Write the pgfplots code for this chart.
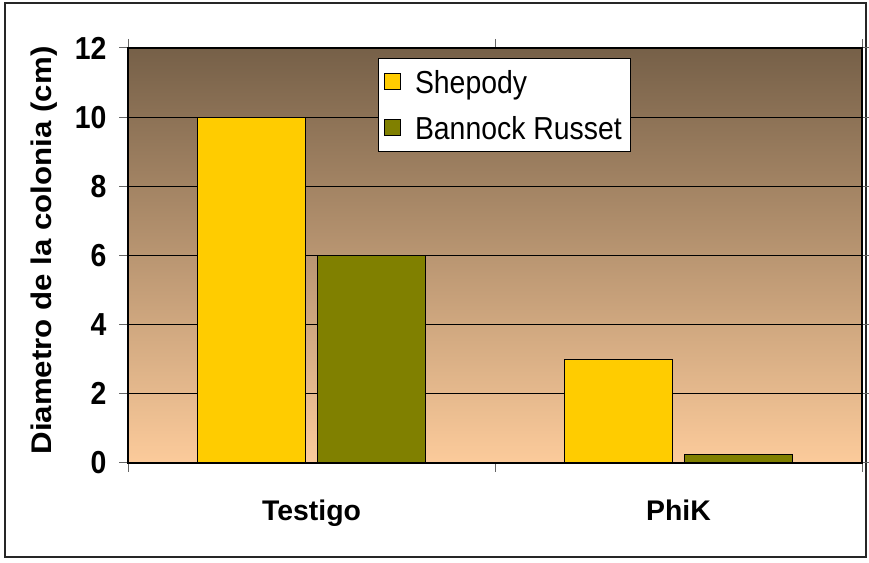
\documentclass[border=0pt]{standalone}
\usepackage{pgfplots}
\pgfplotsset{compat=1.18}
\usepackage{fontspec}
\setmainfont{Liberation Sans}
\usepackage{graphicx}
\definecolor{shep}{RGB}{255,204,0}
\definecolor{bann}{RGB}{128,128,0}
\definecolor{bgtop}{RGB}{118,96,72}
\definecolor{bgbot}{RGB}{252,203,155}
\newcommand\st[1]{\scalebox{1}[1.12]{#1}}
\newcommand\fs{\fontsize{28.5}{31}\selectfont}
\begin{document}
\begin{tikzpicture}[x=1bp,y=1bp]
\useasboundingbox (0,0) rectangle (869,563);
\draw[line width=1.5bp, black!85] (5,6) rectangle (866,560);
\begin{axis}[
  at={(128bp,100bp)}, anchor=south west,
  scale only axis, width=734bp, height=415bp,
  xmin=-0.5, xmax=1.5, ymin=0, ymax=12,
  ytick={0,2,...,12},
  xtick={-0.5,0.5,1.5}, xticklabels={},
  extra x ticks={0,1}, extra x tick labels={Testigo,PhiK},
  extra x tick style={major tick length=0pt, grid=none,
     xticklabel style={font=\fs\bfseries, yshift=-33bp}},
  tick align=outside, major tick length=9bp,
  every tick/.style={draw=gray!80!black, line width=1bp},
  axis line style={line width=2.4bp},
  ymajorgrids, grid style={black, line width=0.7bp},
  axis background/.style={top color=bgtop, bottom color=bgbot},
  yticklabel={\st{\bfseries\pgfmathprintnumber[assume math mode=true]{\tick}}},
  yticklabel style={font=\fs, xshift=-9bp},
  ylabel={\scalebox{1.10}[1]{\bfseries Diametro de la colonia (cm)}},
  every axis y label/.style={at={([xshift=-84bp,yshift=5bp]rel axis cs:0,0.5)}, rotate=90, anchor=center, font=\fs},
  legend cell align=left,
  legend style={at={(0.3406,0.976)}, anchor=north west, draw=black, line width=0.8bp, fill=white,
     font=\fs, inner sep=6bp, row sep=11bp,
     nodes={inner sep=3bp, text height=26bp, text depth=3bp}},
]
\addplot[ybar, bar width=0.294, bar shift=-0.163, fill=shep, draw=black, line width=1.2bp,
  legend image code/.code={\draw[fill=shep, draw=black, line width=1bp] (0bp,-8bp) rectangle (16bp,8bp); \path[draw=none,fill=none] (27bp,0bp) circle (0.1bp);}]
  coordinates {(0,10) (1,3)};
\addlegendentry{\st{Shepody}}
\addplot[ybar, bar width=0.294, bar shift=0.163, fill=bann, draw=black, line width=1.2bp,
  legend image code/.code={\draw[fill=bann, draw=black, line width=1bp] (0bp,-8bp) rectangle (16bp,8bp); \path[draw=none,fill=none] (27bp,0bp) circle (0.1bp);}]
  coordinates {(0,6) (1,0.25)};
\addlegendentry{\st{Bannock Russet}}
\end{axis}
\end{tikzpicture}
\end{document}
